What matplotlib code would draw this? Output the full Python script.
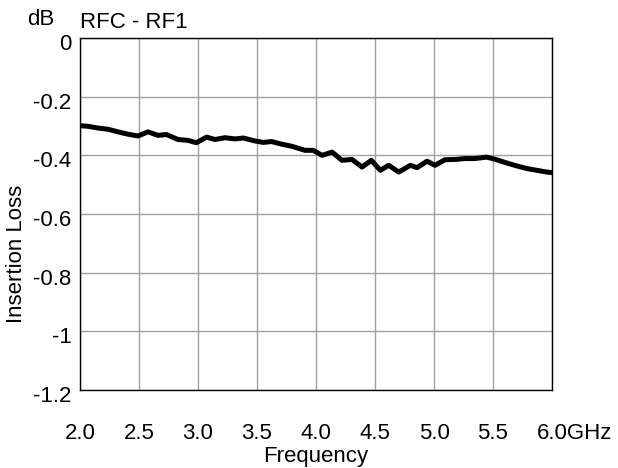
import matplotlib
matplotlib.use("Agg")
import matplotlib.pyplot as plt
import matplotlib.transforms as mtransforms

plt.rcParams['font.family'] = ['Liberation Sans', 'DejaVu Sans']

freq_ghz = [2.000, 2.068, 2.153, 2.237, 2.322, 2.407, 2.492, 2.576, 2.661, 2.731,
            2.831, 2.915, 2.986, 3.073, 3.144, 3.229, 3.314, 3.384, 3.483, 3.554,
            3.624, 3.709, 3.794, 3.907, 3.977, 4.051, 4.136, 4.220, 4.305, 4.390,
            4.469, 4.545, 4.616, 4.701, 4.800, 4.856, 4.941, 5.008, 5.093, 5.178,
            5.263, 5.347, 5.447, 5.531, 5.616, 5.701, 5.786, 5.870, 5.955, 6.000]
loss_db = [-0.299, -0.301, -0.307, -0.311, -0.320, -0.328, -0.334, -0.320, -0.332, -0.329,
           -0.346, -0.349, -0.357, -0.338, -0.346, -0.340, -0.344, -0.341, -0.351, -0.356,
           -0.353, -0.362, -0.369, -0.383, -0.383, -0.400, -0.389, -0.417, -0.414, -0.440,
           -0.417, -0.451, -0.434, -0.457, -0.434, -0.442, -0.420, -0.434, -0.415, -0.414,
           -0.411, -0.411, -0.406, -0.415, -0.426, -0.436, -0.445, -0.451, -0.457, -0.459]

x_ticks = [2.0, 2.5, 3.0, 3.5, 4.0, 4.5, 5.0, 5.5, 6.0]
x_labels = ['2.0', '2.5', '3.0', '3.5', '4.0', '4.5', '5.0', '5.5', '6.0GHz']
y_ticks = [0, -0.2, -0.4, -0.6, -0.8, -1.0, -1.2]
y_labels = ['0', '-0.2', '-0.4', '-0.6', '-0.8', '-1', '-1.2']

W, H = 618, 468
fig = plt.figure(figsize=(W / 100, H / 100), dpi=100)
ax = fig.add_axes([80 / W, (H - 390) / H, 472 / W, 352 / H])

ax.plot(freq_ghz, loss_db, color='black', linewidth=3.6, solid_capstyle='round',
        solid_joinstyle='round', zorder=3)

ax.set_xlim(2.0, 6.0)
ax.set_ylim(-1.2, 0)
ax.set_xticks(x_ticks)
ax.set_xticklabels(x_labels)
ax.set_yticks(y_ticks)
ax.set_yticklabels(y_labels)
ax.tick_params(axis='both', length=0, labelsize=16)
ax.tick_params(axis='x', pad=24)
ax.tick_params(axis='y', pad=6)
ax.grid(True, color='#a0a0a0', linewidth=1.0)
for s in ax.spines.values():
    s.set_color('black')
    s.set_linewidth(1.0)

# shift y tick labels slightly downward
offset = mtransforms.ScaledTranslation(0, -4 / 100, fig.dpi_scale_trans)
for lbl in ax.get_yticklabels():
    lbl.set_transform(lbl.get_transform() + offset)

# last x label: keep "6.0" centred on its tick with "GHz" appended
last = ax.get_xticklabels()[-1]
last.set_horizontalalignment('left')
last.set_transform(last.get_transform() +
                   mtransforms.ScaledTranslation(-15.5 / 100, 0, fig.dpi_scale_trans))

fig.text(316 / W, (H - 462) / H, 'Frequency', ha='center', va='baseline', fontsize=16)
fig.text(17 / W, 214 / H, 'Insertion Loss', ha='center', va='center', rotation=90, fontsize=16)
fig.text(27 / W, (H - 25) / H, 'dB', ha='left', va='baseline', fontsize=16)
fig.text(80 / W, (H - 28) / H, 'RFC - RF1', ha='left', va='baseline', fontsize=16)

fig.savefig('out.png', dpi=100)
